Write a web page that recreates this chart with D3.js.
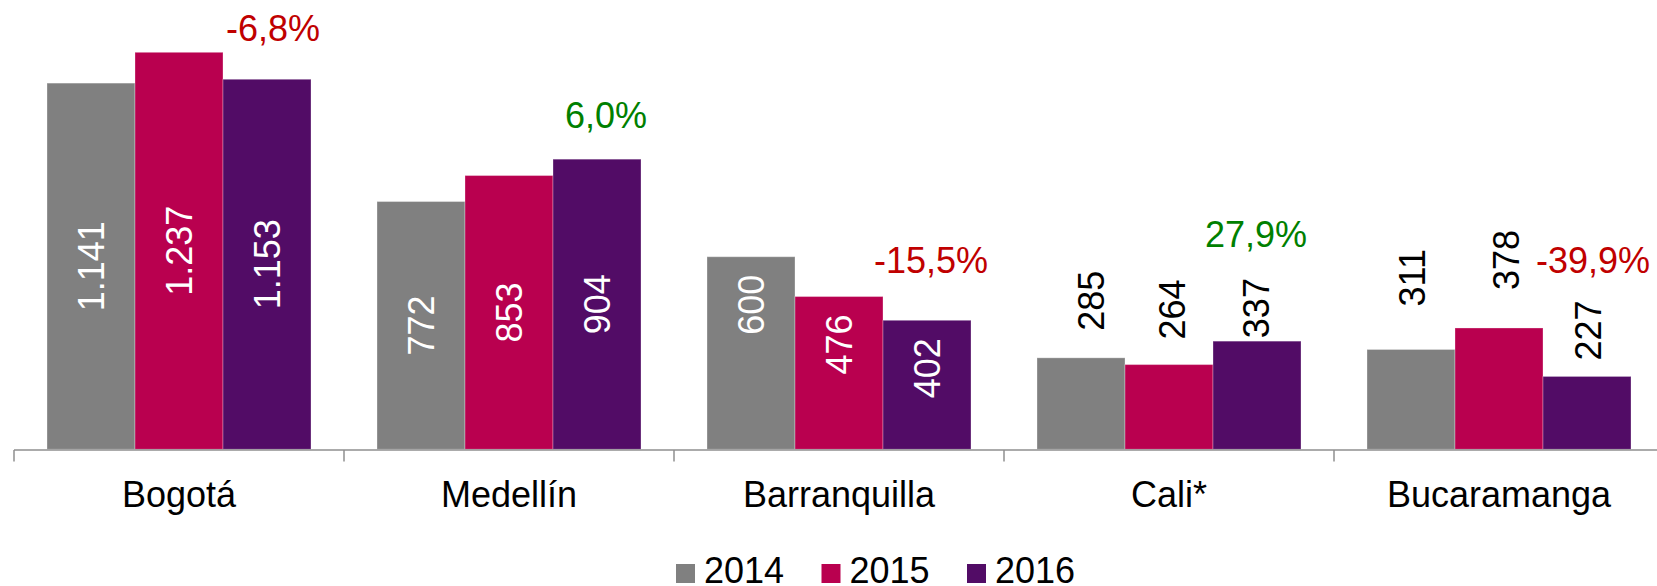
<!DOCTYPE html>
<html>
<head>
<meta charset="utf-8">
<script src="https://cdn.jsdelivr.net/npm/d3@7"></script>
<style>
body { margin: 0; background: #fff; }
svg { display: block; font-family: "Liberation Sans", Arial, sans-serif; }
</style>
</head>
<body>
<svg id="chart" width="1657" height="586"></svg>
<script>
// data
const cities = ['Bogotá', 'Medellín', 'Barranquilla', 'Cali*', 'Bucaramanga'];
const years = ['2014', '2015', '2016'];
const v2014 = [1141, 772, 600, 285, 311];
const v2015 = [1237, 853, 476, 264, 378];
const v2016 = [1153, 904, 402, 337, 227];
const change = [-6.8, 6.0, -15.5, 27.9, -39.9]; // 2016 vs 2015, as printed
const yDomain = [0, 1400];

const colors = ['#808080', '#B9004F', '#520C66'];

// label placement, hand tuned like the original
const labelMode = ['center', 'center', 'end', 'out', 'out'];
const outGap = [null, null, null, [27, 25, 3], [43, 38, 16]];   // px above bar
const outShift = [null, null, null, [10, 3, -1], [1, 7, 1]];    // px right
const pctLift = [38, 31, 47, 94, 103];
const pctShift = [6, 9, 4, -1, 6];

const width = 1657;
const baseY = 449.3;
const fontSize = 36;

const locale = d3.formatLocale({decimal: ',', thousands: '.', grouping: [3], currency: ['', ''], minus: '-'});
const fmtNum = locale.format(',d');
const fmtPct = locale.format('.1f');

const svg = d3.select('#chart');

const x0 = d3.scaleBand()
    .domain(cities)
    .range([14, 1664])
    .padding(0);

const x1 = d3.scaleBand()
    .domain(years)
    .range([33, x0.bandwidth() - 33])
    .padding(0);

const y = d3.scaleLinear()
    .domain(yDomain)
    .range([baseY, 0]);

const series = [v2014, v2015, v2016];
const rows = [];
cities.forEach((c, i) => {
    years.forEach((yr, j) => {
        rows.push({city: c, ci: i, year: yr, yi: j, value: series[j][i]});
    });
});

// bars
const bars = svg.append('g');
bars.selectAll('rect')
    .data(rows)
    .enter().append('rect')
    .attr('x', d => x0(d.city) + x1(d.year))
    .attr('y', d => y(d.value))
    .attr('width', x1.bandwidth())
    .attr('height', d => baseY - y(d.value))
    .attr('fill', d => colors[d.yi])
    .attr('stroke', 'rgba(255,255,255,0.3)')
    .attr('stroke-width', 1);

// axis line + ticks between categories
svg.append('line')
    .attr('x1', 14).attr('x2', width)
    .attr('y1', 450).attr('y2', 450)
    .attr('stroke', '#8f8f8f')
    .attr('stroke-width', 1.5);

svg.append('g').selectAll('line')
    .data(cities)
    .enter().append('line')
    .attr('x1', d => x0(d)).attr('x2', d => x0(d))
    .attr('y1', 450).attr('y2', 461.5)
    .attr('stroke', '#8f8f8f')
    .attr('stroke-width', 1.5);

// category labels
const xAxis = d3.axisBottom(x0).tickSize(0).tickPadding(0);
const axisG = svg.append('g')
    .attr('transform', 'translate(0,' + 507 + ')')
    .call(xAxis);
axisG.select('.domain').remove();
axisG.selectAll('text')
    .attr('dy', 0)
    .attr('fill', '#000')
    .attr('font-size', fontSize)
    .attr('font-family', '"Liberation Sans", Arial, sans-serif');

// value labels (rotated)
svg.append('g').selectAll('text')
    .data(rows)
    .enter().append('text')
    .attr('font-size', fontSize)
    .attr('dy', '0.35em')
    .attr('fill', d => labelMode[d.ci] === 'out' ? '#000' : '#fff')
    .attr('text-anchor', d => {
        const m = labelMode[d.ci];
        return m === 'center' ? 'middle' : (m === 'end' ? 'end' : 'start');
    })
    .attr('transform', d => {
        const m = labelMode[d.ci];
        let cx = x0(d.city) + x1(d.year) + x1.bandwidth() / 2;
        let ly;
        if (m === 'center') {
            ly = (y(d.value) + baseY) / 2;
        } else if (m === 'end') {
            ly = y(d.value) + 18;
        } else {
            ly = y(d.value) - outGap[d.ci][d.yi];
            cx += outShift[d.ci][d.yi];
        }
        return 'translate(' + cx + ',' + ly + ') rotate(-90)';
    })
    .text(d => fmtNum(d.value));

// percent change labels over the 2016 bars
svg.append('g').selectAll('text')
    .data(cities)
    .enter().append('text')
    .attr('font-size', fontSize)
    .attr('text-anchor', 'middle')
    .attr('fill', (d, i) => change[i] < 0 ? '#C00000' : '#008000')
    .attr('x', (d, i) => x0(d) + x1('2016') + x1.bandwidth() / 2 + pctShift[i])
    .attr('y', (d, i) => y(v2016[i]) - pctLift[i])
    .text((d, i) => fmtPct(change[i]) + '%');

// legend
const legend = svg.append('g')
    .selectAll('g')
    .data(years)
    .enter().append('g')
    .attr('transform', (d, i) => 'translate(' + (676 + i * 145.5) + ',564)');

legend.append('rect')
    .attr('width', 19)
    .attr('height', 19)
    .attr('fill', (d, i) => colors[i]);

legend.append('text')
    .attr('x', 28)
    .attr('y', 19)
    .attr('font-size', fontSize)
    .attr('fill', '#000')
    .text(d => d);
</script>
</body>
</html>
